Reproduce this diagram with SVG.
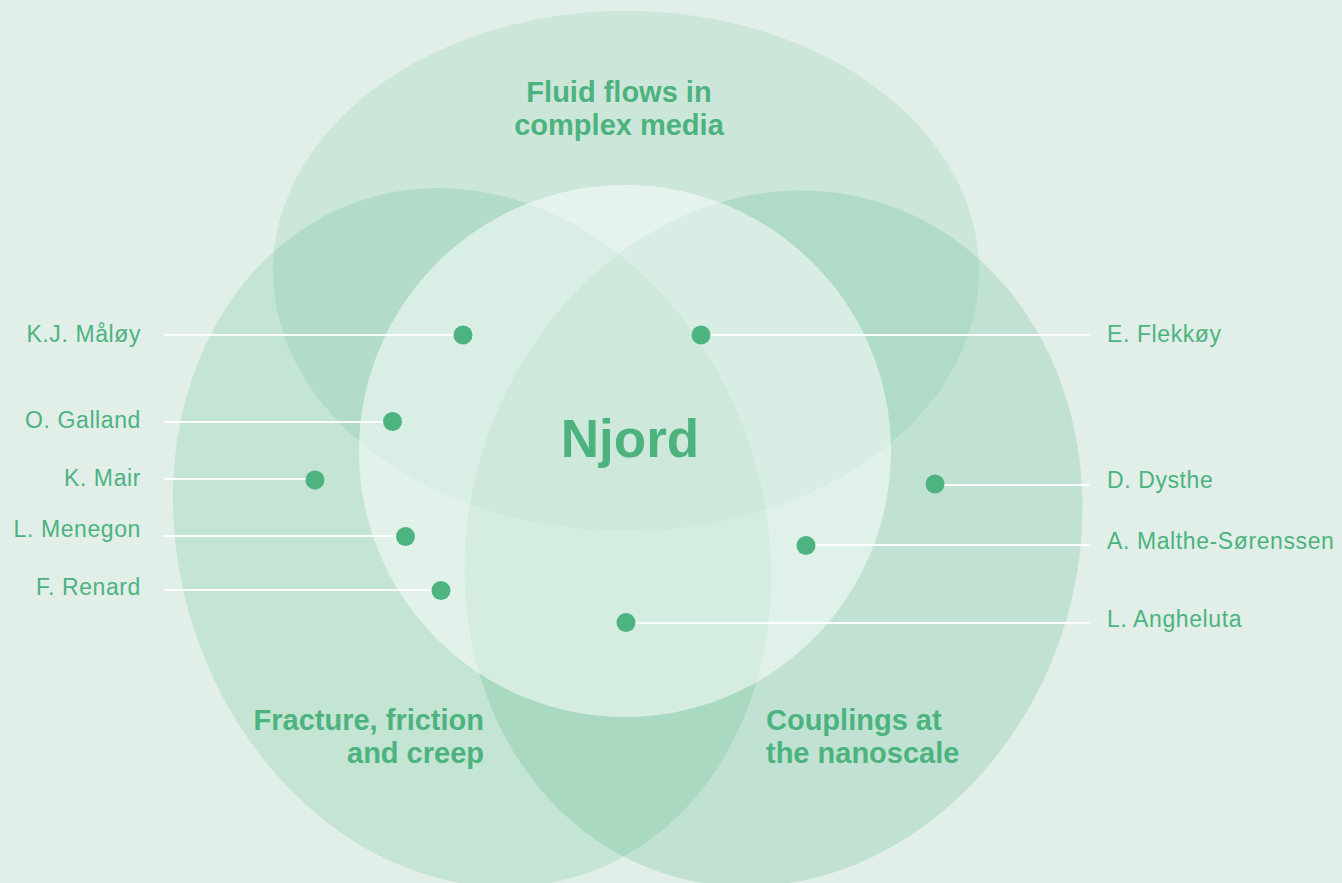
<svg xmlns="http://www.w3.org/2000/svg" width="1342" height="883" viewBox="0 0 1342 883">
  <style>
    .area { fill: #4db380; }
    .core { fill: #ffffff; fill-opacity: 0.5; }
    .lead { stroke: #ffffff; stroke-width: 2; stroke-opacity: 0.92; fill: none; }
    .dot { fill: #4db37f; }
    .name { font-family: "Liberation Sans", Arial, sans-serif; font-size: 23px; letter-spacing: 0.6px; fill: #4cb37f; }
    .theme { font-family: "Liberation Sans", Arial, sans-serif; font-size: 29px; font-weight: bold; fill: #4cb37f; }
    .title { font-family: "Liberation Sans", Arial, sans-serif; font-size: 53px; font-weight: bold; fill: #4cb37f; }
  </style>

  <!-- background -->
  <rect width="1342" height="883" fill="#e1efe8"/>

  <!-- research areas -->
  <g id="area-fluid">
    <ellipse class="area" fill-opacity="0.14" cx="626" cy="271" rx="353" ry="260"/>
    <text class="theme" x="619" y="102" text-anchor="middle">Fluid flows in</text>
    <text class="theme" x="619" y="135" text-anchor="middle">complex media</text>
  </g>
  <g id="area-fracture">
    <ellipse class="area" fill-opacity="0.19" cx="472" cy="537.5" rx="292.7" ry="354.8" transform="rotate(-17.8 472 537.5)"/>
  </g>
  <g id="area-couplings">
    <ellipse class="area" fill-opacity="0.21" cx="773.5" cy="538.5" rx="303.8" ry="352.5" transform="rotate(18.4 773.5 538.5)"/>
  </g>
  <g id="njord">
    <circle class="core" cx="625" cy="451" r="266"/>
    <text class="title" x="630" y="457" text-anchor="middle">Njord</text>
  </g>
  <g id="labels-lower">
    <text class="theme" x="484" y="730" text-anchor="end">Fracture, friction</text>
    <text class="theme" x="484" y="763" text-anchor="end">and creep</text>
    <text class="theme" x="766" y="730">Couplings at</text>
    <text class="theme" x="766" y="763">the nanoscale</text>
  </g>

  <!-- leader lines -->
  <g id="connectors">
    <line class="lead" x1="164" y1="335" x2="463" y2="335"/>
    <line class="lead" x1="164" y1="422" x2="392" y2="422"/>
    <line class="lead" x1="164" y1="479" x2="315" y2="479"/>
    <line class="lead" x1="164" y1="536" x2="405" y2="536"/>
    <line class="lead" x1="164" y1="590" x2="441" y2="590"/>
    <line class="lead" x1="701" y1="335" x2="1089" y2="335"/>
    <line class="lead" x1="935" y1="485" x2="1089" y2="485"/>
    <line class="lead" x1="806" y1="545" x2="1089" y2="545"/>
    <line class="lead" x1="626" y1="623" x2="1089" y2="623"/>
  </g>

  <!-- people -->
  <g id="maloy">
    <circle class="dot" cx="463" cy="335" r="9.5"/>
    <text class="name" x="141" y="342" text-anchor="end">K.J. Måløy</text>
  </g>
  <g id="galland">
    <circle class="dot" cx="392.5" cy="421.5" r="9.5"/>
    <text class="name" x="141" y="428" text-anchor="end">O. Galland</text>
  </g>
  <g id="mair">
    <circle class="dot" cx="315" cy="480" r="9.5"/>
    <text class="name" x="141" y="486" text-anchor="end">K. Mair</text>
  </g>
  <g id="menegon">
    <circle class="dot" cx="405.5" cy="536.5" r="9.5"/>
    <text class="name" x="141" y="537" text-anchor="end">L. Menegon</text>
  </g>
  <g id="renard">
    <circle class="dot" cx="441" cy="590.5" r="9.5"/>
    <text class="name" x="141" y="595" text-anchor="end">F. Renard</text>
  </g>
  <g id="flekkoy">
    <circle class="dot" cx="701" cy="335" r="9.5"/>
    <text class="name" x="1107" y="342">E. Flekkøy</text>
  </g>
  <g id="dysthe">
    <circle class="dot" cx="935" cy="484" r="9.5"/>
    <text class="name" x="1107" y="488">D. Dysthe</text>
  </g>
  <g id="malthe-sorenssen">
    <circle class="dot" cx="806" cy="545.5" r="9.5"/>
    <text class="name" x="1107" y="549">A. Malthe-Sørenssen</text>
  </g>
  <g id="angheluta">
    <circle class="dot" cx="626" cy="622.5" r="9.5"/>
    <text class="name" x="1107" y="627">L. Angheluta</text>
  </g>
</svg>
